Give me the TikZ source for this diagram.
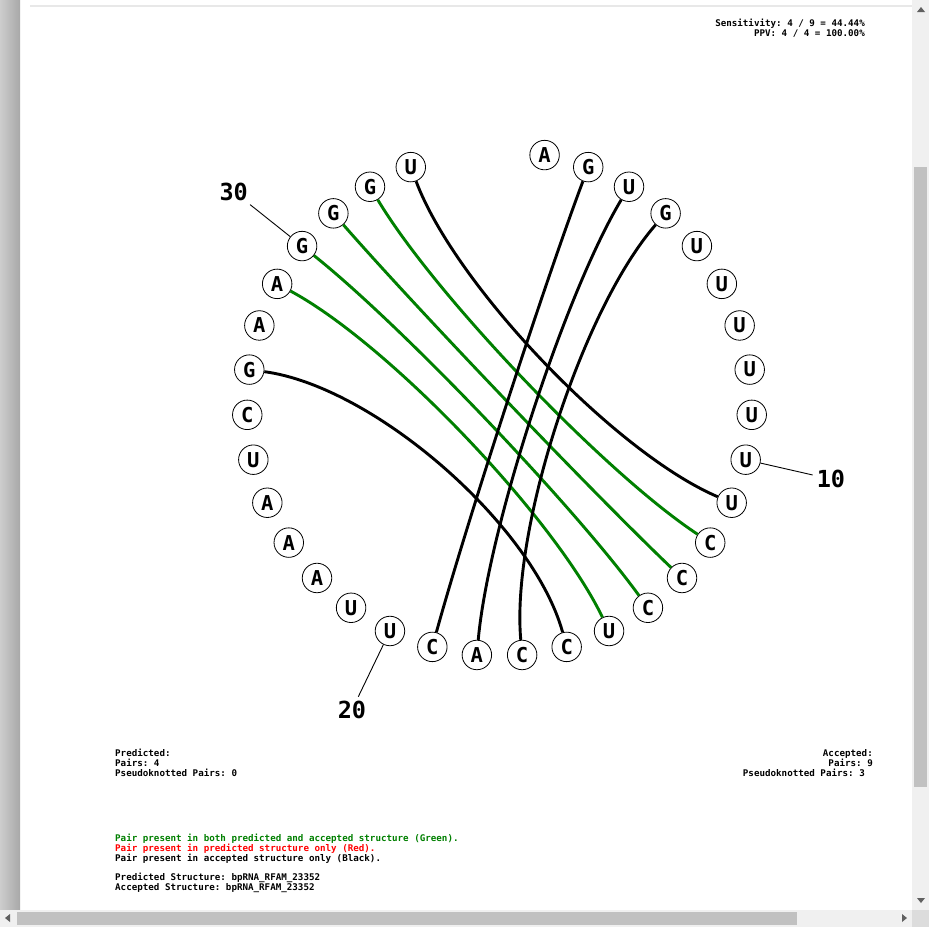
\documentclass[tikz,border=0pt]{standalone}
\usepackage{fontspec}
\newfontfamily\dvm{DejaVu Sans Mono}
\usetikzlibrary{calc}
\frenchspacing
\definecolor{pgreen}{RGB}{0,128,0}
\definecolor{pred}{RGB}{255,0,0}
\definecolor{barl}{RGB}{205,205,205}
\definecolor{barr}{RGB}{168,168,168}
\definecolor{sbbg}{RGB}{240,240,240}
\definecolor{thumbc}{RGB}{193,193,193}
\definecolor{cornerc}{RGB}{220,220,220}
\definecolor{arrowc}{RGB}{96,96,96}
\definecolor{toplinec}{RGB}{232,232,232}
\begin{document}
\begin{tikzpicture}[x=1pt,y=-1pt,
  nt/.style={circle,draw=black,fill=white,line width=0.8pt,minimum size=29.5pt,inner sep=0pt,
    font=\dvm\bfseries\fontsize{20.5}{20.5}\selectfont},
  pairg/.style={draw=pgreen,line width=2.9pt},
  pairb/.style={draw=black,line width=2.9pt},
  numlab/.style={font=\dvm\bfseries\fontsize{23.5}{23.5}\selectfont,inner sep=4pt},
  tickline/.style={line width=0.9pt},
  info/.style={font=\dvm\bfseries\fontsize{9.2}{10}\selectfont,inner sep=0pt}]
\useasboundingbox[fill=white] (0,0) rectangle (929,927);
% window chrome
\shade[left color=barl,right color=barr] (0,0) rectangle (20,910);
\draw[toplinec,line width=1.5pt] (30,6) -- (912,6);
\fill[sbbg] (912,0) rectangle (929,910);
\fill[thumbc] (914,167) rectangle (927,787);
\fill[arrowc] (917,12) -- (925,12) -- (921,7) -- cycle;
\fill[arrowc] (917,898) -- (925,898) -- (921,903) -- cycle;
\fill[sbbg] (0,910) rectangle (912,927);
\fill[thumbc] (17,912) rectangle (797,925);
\fill[arrowc] (5,918) -- (10,914) -- (10,922) -- cycle;
\fill[arrowc] (907,918) -- (902,914) -- (902,922) -- cycle;
\fill[cornerc] (912,910) rectangle (929,927);
% centre
\coordinate (o) at (499.5,403.5);
% nucleotides
\foreach \i/\b in {1/A,2/G,3/U,4/G,5/U,6/U,7/U,8/U,9/U,10/U,11/U,12/C,13/C,14/C,15/U,16/C,17/C,18/A,19/C,20/U,21/U,22/A,23/A,24/A,25/U,26/C,27/G,28/A,29/A,30/G,31/G,32/G,33/U}{
  \node[nt] (n\i) at ({499.5+252.5*sin(\i*360/35)},{403.5-252.5*cos(\i*360/35)}) {\b};
}
% position labels
\foreach \i in {10,20,30}{
  \node[numlab] (l\i) at ({499.5+340*sin(\i*360/35)},{403.5-340*cos(\i*360/35)}) {\i};
  \draw[tickline] (n\i) -- (l\i);
}
% pairs
\foreach \a/\b/\s in {32/12/pairg,31/13/pairg,30/14/pairg,29/15/pairg,33/11/pairb,27/16/pairb,2/19/pairb,3/18/pairb,4/17/pairb}{
  \draw[\s] (n\a) .. controls ($(n\a)!0.5!(o)$) and ($(n\b)!0.5!(o)$) .. (n\b);
}
% texts
\node[info,anchor=base east] (sens) at (865,26.5) {Sensitivity: 4 / 9 = 44.44\%};
\node[info,anchor=base east] (ppv) at (865,36.5) {PPV: 4 / 4 = 100.00\%};
\node[info,anchor=base west] (pr1) at (115,756.5) {Predicted:};
\node[info,anchor=base west] (pr2) at (115,766.5) {Pairs: 4};
\node[info,anchor=base west] (pr3) at (115,776.5) {Pseudoknotted Pairs: 0};
\node[info,anchor=base east] (ac1) at (873,756.5) {Accepted:};
\node[info,anchor=base east] (ac2) at (873,766.5) {Pairs: 9};
\node[info,anchor=base east] (ac3) at (865,776.5) {Pseudoknotted Pairs: 3};
\node[info,anchor=base west,text=pgreen] (lg1) at (115,841.5) {Pair present in both predicted and accepted structure (Green).};
\node[info,anchor=base west,text=pred] (lg2) at (115,851.5) {Pair present in predicted structure only (Red).};
\node[info,anchor=base west] (lg3) at (115,861.5) {Pair present in accepted structure only (Black).};
\node[info,anchor=base west] (ps) at (115,880.5) {Predicted Structure: bpRNA\_RFAM\_23352};
\node[info,anchor=base west] (as) at (115,890.5) {Accepted Structure: bpRNA\_RFAM\_23352};
\end{tikzpicture}
\end{document}
